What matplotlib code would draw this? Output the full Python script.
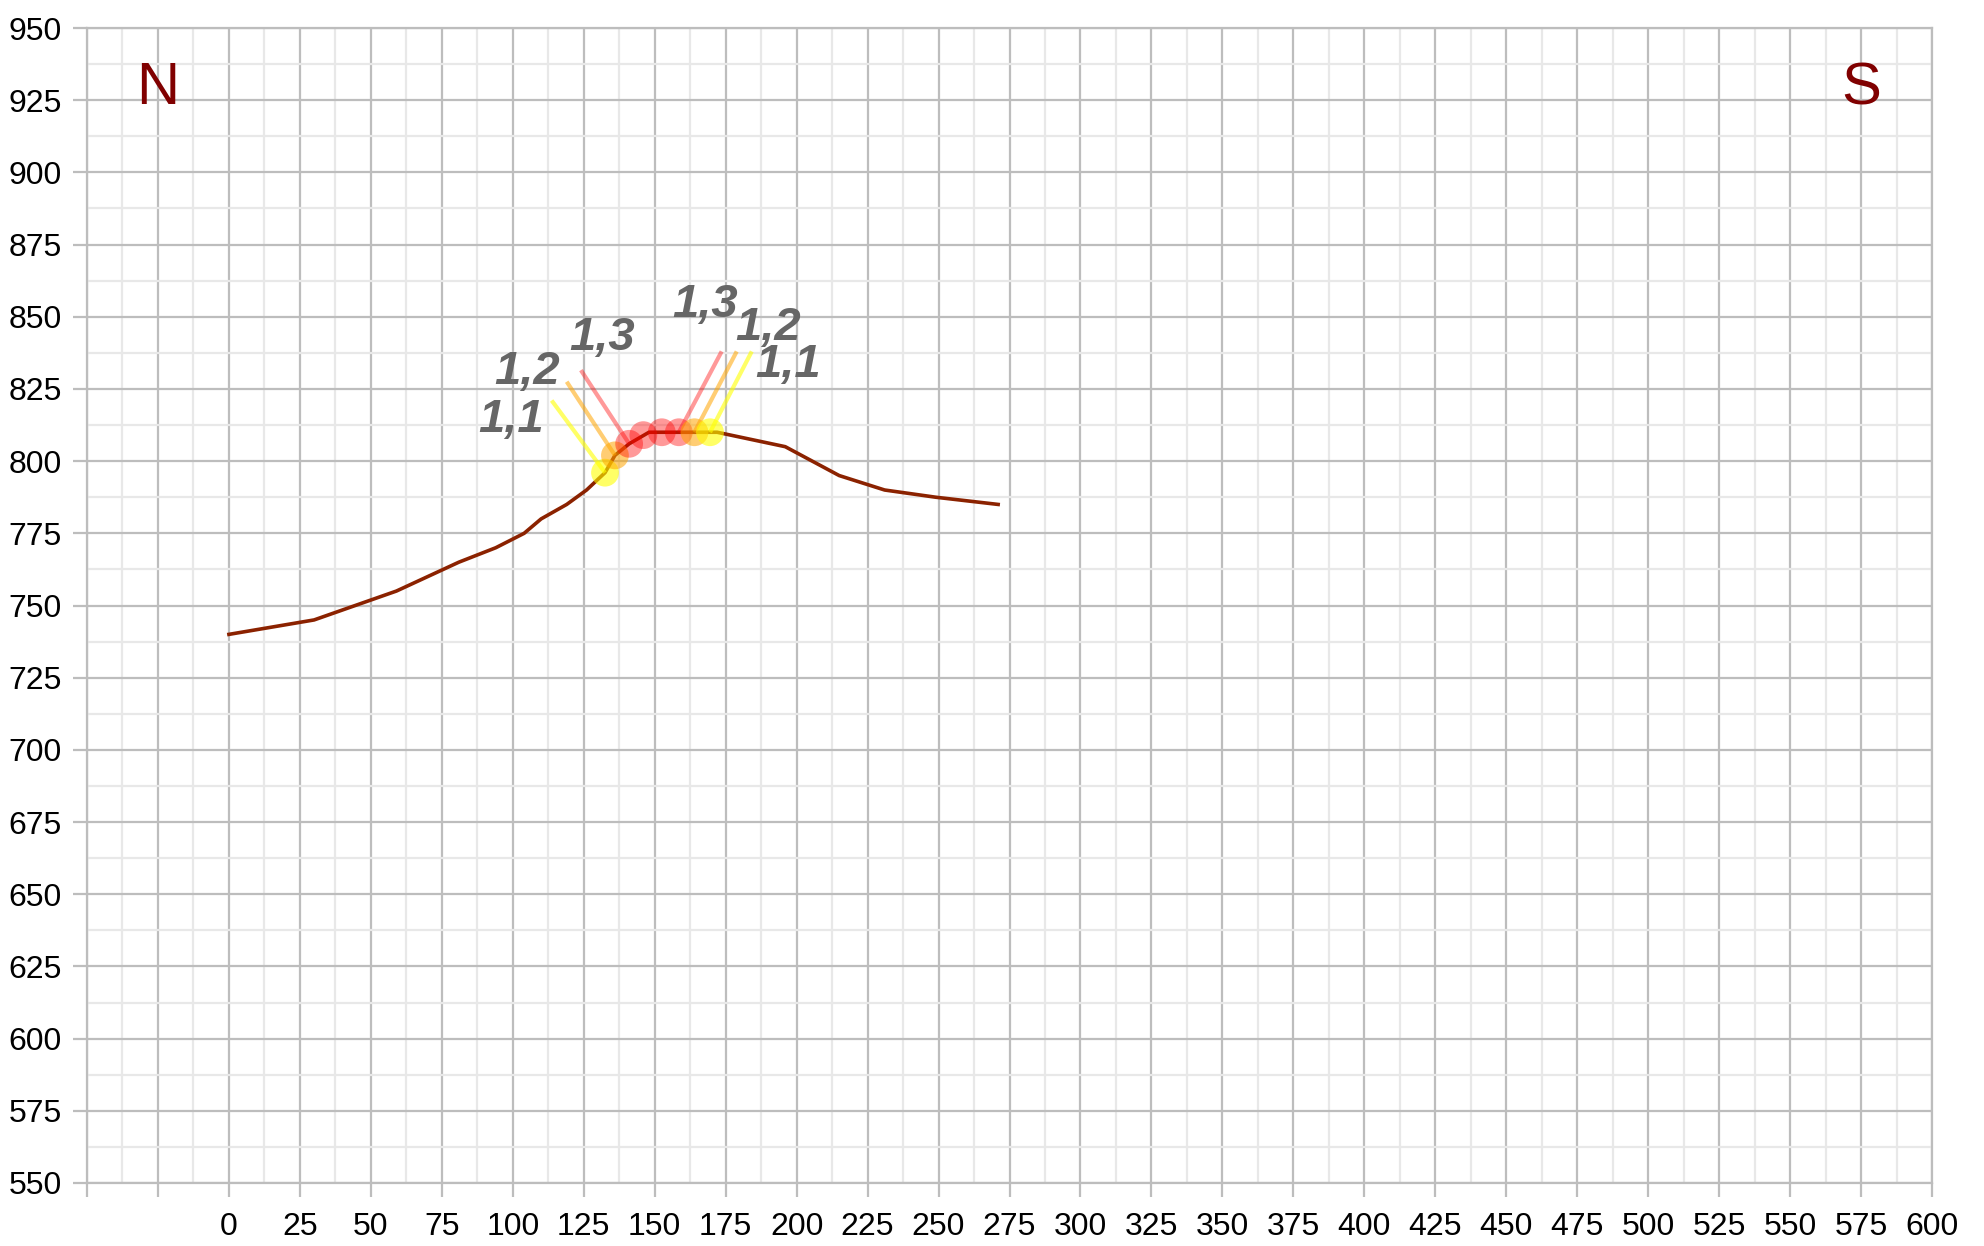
import numpy as np
import matplotlib
matplotlib.use('Agg')
import matplotlib.pyplot as plt
from matplotlib.ticker import MultipleLocator, FuncFormatter

plt.rcParams['font.family'] = ['Liberation Sans', 'DejaVu Sans']

# profile: distance vs elevation
dist = [0, 30, 59, 81, 94, 104, 110, 119, 126, 132.5, 136, 141, 148, 172, 196, 215, 231, 249, 271]
elev = [740, 745, 755, 765, 770, 775, 780, 785, 790, 796, 802, 806, 810, 810, 805, 795, 790, 787.5, 785]

# marked points on the profile
mark_x = [132.5, 136, 141, 146, 152.5, 158.5, 164, 169.5]
mark_y = [796, 802, 806, 809, 810, 810, 810, 810]
mark_kind = ['y', 'o', 'r', 'r', 'r', 'r', 'o', 'y']

# labels with their leader lines (start point -> end point)
lab_text = ['1,1', '1,2', '1,3', '1,3', '1,2', '1,1']
lab_kind = ['y', 'o', 'r', 'r', 'o', 'y']
lead_x0 = [132.5, 136, 141, 158.5, 164, 169.5]
lead_y0 = [796, 802, 806, 810, 810, 810]
lead_x1 = [113.7, 119, 124, 173.6, 178.9, 184.2]
lead_y1 = [821, 827.5, 831.5, 838, 838, 838]
lab_x = [99.4, 105, 131.4, 167.6, 190, 197]
lab_y = [814.2, 830.9, 842.6, 854.1, 846.1, 833.3]

colmap = {'y': '#ffff00', 'o': '#ffa500', 'r': '#ff0000'}
alphamap = {'y': 0.6, 'o': 0.55, 'r': 0.4}

fig = plt.figure(figsize=(19.84, 12.46), dpi=100)
ax = fig.add_axes([87/1984, 1-1183/1246, (1932-87)/1984, (1183-28)/1246])

ax.set_xlim(-50, 600)
ax.set_ylim(550, 950)
ax.xaxis.set_major_locator(MultipleLocator(25))
ax.xaxis.set_minor_locator(MultipleLocator(12.5))
ax.yaxis.set_major_locator(MultipleLocator(25))
ax.yaxis.set_minor_locator(MultipleLocator(12.5))
ax.xaxis.set_major_formatter(FuncFormatter(lambda v, p: '' if v < 0 else '%d' % v))
ax.yaxis.set_major_formatter(FuncFormatter(lambda v, p: '%d' % v))

ax.grid(which='major', color='#bdbdbd', linewidth=1.6)
ax.grid(which='minor', color='#e8e8e8', linewidth=1.6)
ax.set_axisbelow(True)
for s in ax.spines.values():
    s.set_color('#bdbdbd')
    s.set_linewidth(1.6)
ax.tick_params(which='major', length=10, width=1.6, color='#bdbdbd',
               labelsize=23, pad=8)
ax.tick_params(axis='x', which='major', pad=11)
ax.tick_params(which='minor', length=0)

ax.plot(dist, elev, color='#8b2200', linewidth=2.6, zorder=3)

for i in range(len(lab_text)):
    k = lab_kind[i]
    ax.plot([lead_x0[i], lead_x1[i]], [lead_y0[i], lead_y1[i]],
            color=colmap[k], alpha=alphamap[k], linewidth=3, zorder=4,
            solid_capstyle='butt')
    ax.text(lab_x[i], lab_y[i], lab_text[i], fontsize=34, fontweight='bold',
            fontstyle='italic', color='#666666', ha='center', va='center', zorder=6)

for i in range(len(mark_x)):
    k = mark_kind[i]
    ax.scatter(mark_x[i], mark_y[i], s=400, color=colmap[k], alpha=alphamap[k],
               edgecolors='none', zorder=5)

ax.text(-25, 929, 'N', fontsize=43, color='#800000', ha='center', va='center')
ax.text(575, 929, 'S', fontsize=43, color='#800000', ha='center', va='center')

fig.savefig('out.png', dpi=100)
